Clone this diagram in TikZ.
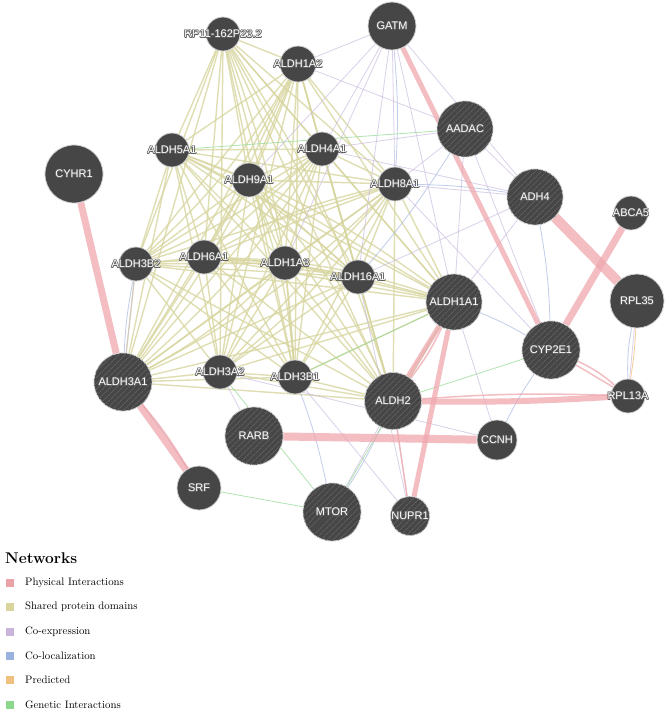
\documentclass[tikz,border=0pt]{standalone}
\usepackage{fontspec}
\newfontfamily\labfont{Liberation Sans}
\usetikzlibrary{patterns.meta,backgrounds}
\definecolor{nodec}{HTML}{464646}
\definecolor{hatchc}{HTML}{5E5E5E}
\definecolor{haloc}{HTML}{606060}
\definecolor{rimc}{HTML}{D0D0D0}
\definecolor{physc}{HTML}{EFA8AE}
\definecolor{domc}{HTML}{D8D6A0}
\definecolor{coexc}{HTML}{C8B8DE}
\definecolor{colocc}{HTML}{A8B8E2}
\definecolor{predc}{HTML}{F2C27E}
\definecolor{genc}{HTML}{98DA98}
\definecolor{legphys}{HTML}{EBA3A9}
\definecolor{legdom}{HTML}{D8D49C}
\definecolor{legcoex}{HTML}{C9B4DA}
\definecolor{legcoloc}{HTML}{9AB2E0}
\definecolor{legpred}{HTML}{F2C07E}
\definecolor{leggen}{HTML}{8CD88C}
\newcommand\glab[1]{\makebox[0pt]{\labfont\fontsize{11}{12}\selectfont
  \rlap{\textcolor{haloc}{\kern-.7pt#1}}%
  \rlap{\textcolor{haloc}{\kern.7pt#1}}%
  \rlap{\textcolor{haloc}{\raisebox{.7pt}{#1}}}%
  \rlap{\textcolor{haloc}{\raisebox{-.7pt}{#1}}}%
  \rlap{\textcolor{haloc}{\kern.5pt\raisebox{.5pt}{#1}}}%
  \rlap{\textcolor{haloc}{\kern-.5pt\raisebox{-.5pt}{#1}}}%
  \rlap{\textcolor{haloc}{\kern.5pt\raisebox{-.5pt}{#1}}}%
  \rlap{\textcolor{haloc}{\kern-.5pt\raisebox{.5pt}{#1}}}%
  \textcolor{white}{#1}}}
\begin{document}
\begin{tikzpicture}[x=1pt,y=-1pt,
  gnode/.style={circle,fill=nodec,draw=rimc,line width=0.8pt,inner sep=0pt,minimum size=#1},
  hatch/.style={postaction={pattern={Lines[angle=45,distance=4pt,line width=0.9pt]},pattern color=hatchc}},
  phys/.style={draw=physc,opacity=0.75,line width=#1},
  dom/.style={draw=domc,opacity=0.8,line width=1.4pt},
  coex/.style={draw=coexc,opacity=0.65,line width=0.8pt},
  coloc/.style={draw=colocc,opacity=0.7,line width=0.8pt},
  pred/.style={draw=predc,opacity=0.8,line width=0.8pt},
  gen/.style={draw=genc,opacity=0.75,line width=0.8pt},
  legsq/.style={rectangle,inner sep=0pt,minimum size=8pt,fill=#1},
  legtxt/.style={anchor=west,inner sep=0pt,font=\fontsize{10.8}{12}\selectfont}
]
\useasboundingbox (0,0) rectangle (666,716);

% ---------- nodes ----------
\node[gnode=34pt] (rp) at (223,34) {\glab{RP11-162P23.2}};
\node[gnode=36pt] (a1a2) at (298,64) {\glab{ALDH1A2}};
\node[gnode=48pt] (gatm) at (392,26) {\glab{GATM}};
\node[gnode=56pt,hatch] (aadac) at (465,129) {\glab{AADAC}};
\node[gnode=58pt] (cyhr1) at (74,174) {\glab{CYHR1}};
\node[gnode=34pt] (a5a1) at (172,150) {\glab{ALDH5A1}};
\node[gnode=34pt] (a4a1) at (322,149) {\glab{ALDH4A1}};
\node[gnode=34pt] (a9a1) at (249,180) {\glab{ALDH9A1}};
\node[gnode=34pt] (a8a1) at (395,184) {\glab{ALDH8A1}};
\node[gnode=56pt,hatch] (adh4) at (535,197) {\glab{ADH4}};
\node[gnode=34pt] (abca5) at (631,213) {\glab{ABCA5}};
\node[gnode=34pt] (a3b2) at (136,264) {\glab{ALDH3B2}};
\node[gnode=34pt] (a6a1) at (204,257) {\glab{ALDH6A1}};
\node[gnode=34pt] (a1a3) at (285,263) {\glab{ALDH1A3}};
\node[gnode=34pt] (a16a1) at (358,277) {\glab{ALDH16A1}};
\node[gnode=56pt,hatch] (a1a1) at (454,302) {\glab{ALDH1A1}};
\node[gnode=54pt] (rpl35) at (637,301) {\glab{RPL35}};
\node[gnode=58pt,hatch] (cyp) at (551,350) {\glab{CYP2E1}};
\node[gnode=58pt,hatch] (a3a1) at (123,382) {\glab{ALDH3A1}};
\node[gnode=34pt] (a3a2) at (220,372) {\glab{ALDH3A2}};
\node[gnode=34pt] (a3b1) at (295,377) {\glab{ALDH3B1}};
\node[gnode=57pt,hatch] (a2) at (393,401) {\glab{ALDH2}};
\node[gnode=34pt] (rpl13a) at (628,396) {\glab{RPL13A}};
\node[gnode=58pt,hatch] (rarb) at (254,436) {\glab{RARB}};
\node[gnode=40pt] (ccnh) at (497,440) {\glab{CCNH}};
\node[gnode=44pt] (srf) at (199,488) {\glab{SRF}};
\node[gnode=58pt,hatch] (mtor) at (332,512) {\glab{MTOR}};
\node[gnode=39pt,hatch] (nupr1) at (410,516) {\glab{NUPR1}};

% ---------- edges ----------
\begin{pgfonlayer}{background}
\fill[white] (0,0) rectangle (666,716);
% shared protein domains
\foreach \a [count=\i] in {rp,a1a2,a5a1,a4a1,a9a1,a8a1,a3b2,a6a1,a1a3,a16a1,a1a1,a3a1,a3a2,a3b1,a2}{
  \foreach \b [count=\j] in {rp,a1a2,a5a1,a4a1,a9a1,a8a1,a3b2,a6a1,a1a3,a16a1,a1a1,a3a1,a3a2,a3b1,a2}{
    \ifnum\j>\i \draw[dom] (\a) -- (\b); \fi
  }
}
\foreach \a/\b in {a1a2/a3a1,a4a1/a3b2,a9a1/a3b1,a8a1/a3a2,a5a1/a16a1,rp/a3b1,a1a3/a3a1,a6a1/a8a1,
  a1a2/a3b2,a4a1/a3a1,a8a1/a3a1,rp/a2,a5a1/a1a1,a9a1/a2,a3b2/a16a1,a6a1/a1a1}{
  \draw[dom] (\a) to[bend left=8] (\b);
}
% co-expression
\foreach \a/\b in {gatm/a1a2,gatm/a4a1,gatm/a8a1,gatm/a16a1,gatm/a1a1,gatm/adh4,gatm/a9a1,
  aadac/a8a1,aadac/a4a1,aadac/a1a1,aadac/adh4,aadac/cyp,adh4/a8a1,adh4/a1a1,adh4/a16a1,
  adh4/a4a1,a1a1/ccnh,a2/mtor,a2/nupr1,a16a1/nupr1,a3b1/nupr1,a3a2/rarb,rpl35/rpl13a,
  a1a2/aadac,a8a1/cyp,a3b2/a3a1,gatm/a1a3,a3a2/ccnh}{
  \draw[coex] (\a) -- (\b);
}
% co-localization
\foreach \a/\b in {a8a1/adh4,adh4/cyp,ccnh/cyp,a3a1/a3b2,a3b1/mtor,a2/mtor,aadac/a16a1,
  a1a1/cyp,gatm/a8a1,a3a1/srf}{
  \draw[coloc] (\a) to[bend left=4] (\b);
}
\draw[coloc] (rpl35) to[bend right=6] (rpl13a);
\draw[pred] (rpl35) to[bend left=3] (rpl13a);
% genetic interactions
\foreach \a/\b in {srf/mtor,a5a1/aadac,a2/cyp,a3a2/mtor,mtor/a1a1,a3b1/a1a1}{
  \draw[gen] (\a) -- (\b);
}
% physical interactions
\draw[phys=7pt] (cyhr1) -- (a3a1);
\draw[phys=7pt] (a3a1) -- (srf);
\draw[phys=1.5pt] (a3a1) to[bend left=5] (srf);
\draw[phys=5pt] (gatm) -- (cyp);
\draw[phys=10pt] (adh4) -- (rpl35);
\draw[phys=7pt] (abca5) -- (cyp);
\draw[phys=5pt] (a1a1) -- (a2);
\draw[phys=1.5pt] (a1a1) to[bend left=6] (a2);
\draw[phys=5pt] (a1a1) -- (nupr1);
\draw[phys=1.5pt] (a2) -- (nupr1);
\draw[phys=6pt] (a2) to[bend right=2] (rpl13a);
\draw[phys=1.5pt] (a2) to[bend left=3] (rpl13a);
\draw[phys=8pt] (rarb) -- (ccnh);
\draw[phys=1.5pt] (cyp) -- (rpl13a);
\draw[phys=1.5pt] (cyp) to[bend left=8] (rpl13a);
\end{pgfonlayer}

% ---------- legend ----------
\node[anchor=west,inner sep=0pt,font=\bfseries\fontsize{15.5}{18}\selectfont] (legtitle) at (5,558) {Networks};
\node[legsq=legphys] (sq1) at (10,583) {};
\node[legtxt] (lt1) at (25,583) {Physical Interactions};
\node[legsq=legdom] (sq2) at (10,607) {};
\node[legtxt] (lt2) at (25,607) {Shared protein domains};
\node[legsq=legcoex] (sq3) at (10,632) {};
\node[legtxt] (lt3) at (25,632) {Co-expression};
\node[legsq=legcoloc] (sq4) at (10,656) {};
\node[legtxt] (lt4) at (25,656) {Co-localization};
\node[legsq=legpred] (sq5) at (10,680) {};
\node[legtxt] (lt5) at (25,680) {Predicted};
\node[legsq=leggen] (sq6) at (10,705) {};
\node[legtxt] (lt6) at (25,705) {Genetic Interactions};
\end{tikzpicture}
\end{document}
